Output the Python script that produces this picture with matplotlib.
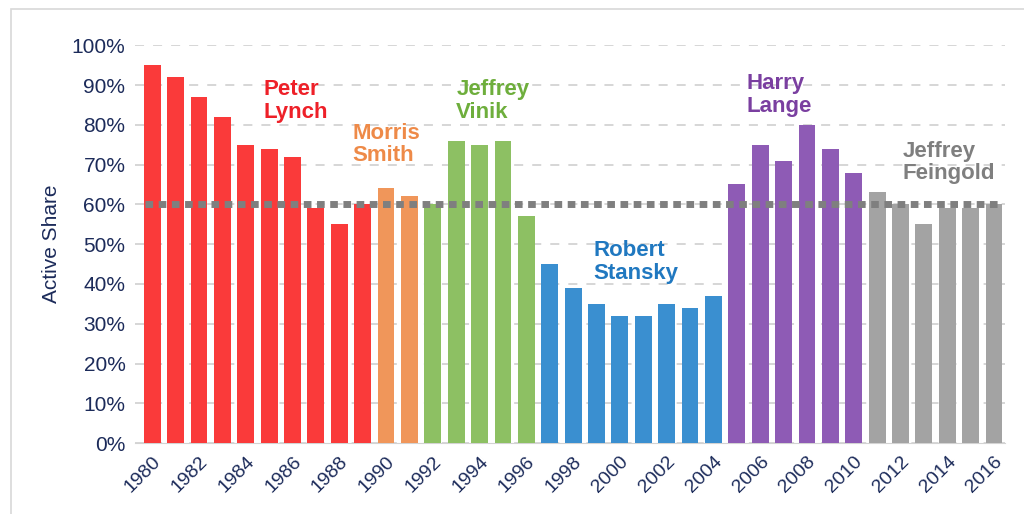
import matplotlib
matplotlib.use('Agg')
import matplotlib.pyplot as plt
from matplotlib.patches import Rectangle

plt.rcParams['font.family'] = ['Liberation Sans', 'DejaVu Sans']

years = list(range(1980, 2017))
share = [95, 92, 87, 82, 75, 74, 72, 59, 55, 60,   # Peter Lynch
         64, 62,                                    # Morris Smith
         60, 76, 75, 76, 57,                        # Jeffrey Vinik
         45, 39, 35, 32, 32, 35, 34, 37,            # Robert Stansky
         65, 75, 71, 80, 74, 68,                    # Harry Lange
         63, 60, 55, 59, 59, 60]                    # Jeffrey Feingold
managers = ['Peter\nLynch', 'Morris\nSmith', 'Jeffrey\nVinik',
            'Robert\nStansky', 'Harry\nLange', 'Jeffrey\nFeingold']
tenure = [10, 2, 5, 8, 6, 6]
bar_colors = ['#FA3A3A', '#F0965A', '#8DC063', '#3A8FD0', '#8E5BB5', '#A3A3A3']
text_colors = ['#EE2028', '#EE8A48', '#6EAE3C', '#2078C0', '#7A3FA0', '#7F7F7F']
label_pos = [(1984.75, 91.5), (1988.55, 80.5), (1993.0, 91.5),
             (1998.85, 51), (2005.4, 93), (2012.1, 76)]
average = 60

colors = []
for c, n in zip(bar_colors, tenure):
    colors += [c] * n

fig = plt.figure(figsize=(10.24, 5.14), dpi=100)
fig.patches.append(Rectangle((0.011, -0.01), 1.5, 0.992, transform=fig.transFigure,
                             fill=False, edgecolor='#D8D8D8', lw=1.2))
ax = fig.add_axes([0.132, 0.138, 0.849, 0.774])

ax.bar(years, [v / 100 for v in share], width=0.72, color=colors, zorder=2)
ax.plot([years[0] - 0.3, years[-1] + 0.3], [average / 100] * 2, color='#7F7F7F',
        lw=5, linestyle=(0, (1.1, 0.8)), dash_capstyle='butt', zorder=3)

for name, (x, y), c in zip(managers, label_pos, text_colors):
    ax.text(x, y / 100, name, color=c, fontsize=16, fontweight='bold',
            ha='left', va='top', linespacing=1.1, zorder=4)

ax.set_ylim(0, 1.0)
ax.set_xlim(1980 - 0.73, 2016 + 0.45)
ax.set_yticks([i / 10 for i in range(11)])
ax.set_yticklabels([f'{i * 10}%' for i in range(11)], color='#1C2B5A', fontsize=15)
ax.set_xticks(years[::2])
ax.set_xticklabels([str(y) for y in years[::2]], rotation=45, ha='right',
                   rotation_mode='anchor', color='#1C2B5A', fontsize=14)
ax.tick_params(length=0, pad=7)
ax.set_ylabel('Active Share', color='#1C2B5A', fontsize=15, labelpad=8)

ax.yaxis.grid(True, color='#D3D3D3', lw=1.3, linestyle=(0, (5, 5)), zorder=0)
ax.set_axisbelow(True)
for s in ['top', 'right', 'left']:
    ax.spines[s].set_visible(False)
ax.spines['bottom'].set_color('#D3D3D3')
ax.spines['bottom'].set_zorder(1)

fig.savefig('out.png', dpi=100)
